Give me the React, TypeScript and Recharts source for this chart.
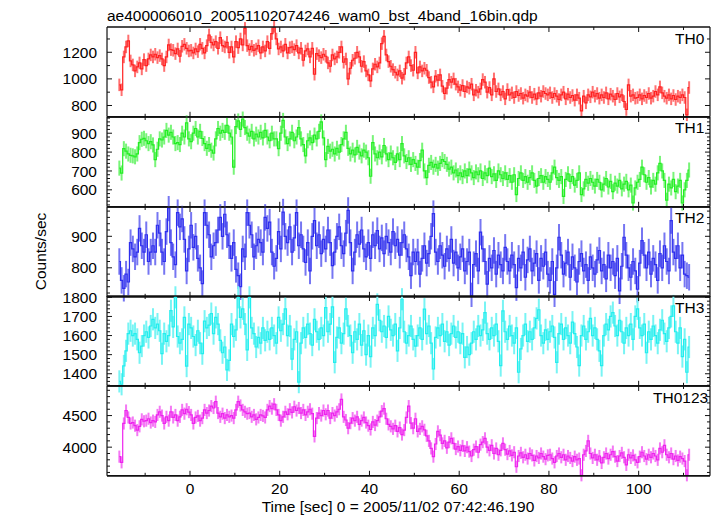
import React from "react";
import { LineChart, Line, XAxis, YAxis, ErrorBar } from "recharts";

// 0.5 s bins, centre of first bin
const TIME_START = -15.75;
const BIN_WIDTH = 0.5;

// TH0 counts/sec
const th0Rate = [
  955, 918, 1165, 1240, 1285, 1135, 1105, 1060, 1090, 1120, 1075, 1145,
  1100, 1150, 1180, 1165, 1185, 1160, 1175, 1150, 1100, 1165, 1255, 1220, 1215, 1190, 1225, 1170, 1245, 1260, 1230, 1210,
  1215, 1195, 1225, 1205, 1260, 1230, 1195, 1250, 1330, 1275, 1255, 1280, 1230, 1310, 1250, 1240, 1275, 1200, 1240, 1165,
  1280, 1235, 1300, 1255, 1380, 1250, 1220, 1245, 1215, 1225, 1250, 1195, 1240, 1210, 1280, 1230, 1340, 1395, 1300, 1225,
  1240, 1210, 1260, 1195, 1235, 1240, 1220, 1250, 1195, 1230, 1140, 1210, 1225, 1165, 1230, 1035, 1190, 1175, 1160, 1185,
  1170, 1120, 1095, 1180, 1150, 1165, 1200, 1240, 1125, 1150, 1000, 1080, 1140, 1155, 1200, 1165, 1095, 1130, 1060, 1030,
  985, 1075, 1110, 1090, 1120, 1265, 1320, 1180, 1130, 1095, 1070, 1050, 1030, 1060, 1005, 1035, 1120, 1165, 1100, 1065,
  1200, 1045, 1090, 1060, 1080, 1065, 1010, 975, 940, 1020, 990, 1030, 945, 890, 930, 995, 975, 1000, 960, 940,
  915, 950, 905, 940, 930, 960, 880, 915, 900, 925, 995, 975, 900, 935, 880, 1000, 905, 925, 880, 905,
  850, 920, 880, 895, 860, 905, 875, 890, 855, 880, 870, 900, 860, 885, 850, 895, 870, 905, 890, 880,
  895, 860, 890, 870, 845, 880, 900, 850, 885, 860, 875, 840, 880, 855, 760, 870, 820, 880, 865, 900,
  870, 890, 855, 880, 860, 895, 850, 885, 870, 845, 890, 865, 880, 830, 770, 955, 870, 880, 855, 860,
  880, 850, 875, 860, 890, 855, 870, 905, 880, 940, 895, 870, 855, 880, 850, 875, 845, 870, 860, 880,
  860, 730, 935,
];

// TH1 counts/sec
const th1Rate = [
  715, 689, 818, 805, 790, 783, 780, 775, 790, 850, 868, 873,
  860, 845, 855, 838, 760, 815, 870, 864, 880, 915, 890, 905, 880, 845, 850, 840, 900, 880, 955, 870,
  855, 900, 925, 880, 910, 872, 845, 820, 840, 810, 795, 870, 925, 900, 915, 905, 942, 900, 880, 720,
  935, 965, 920, 975, 930, 900, 885, 910, 870, 895, 880, 905, 875, 915, 880, 860, 900, 870, 870, 818,
  900, 968, 880, 845, 870, 905, 860, 880, 930, 870, 840, 780, 860, 875, 850, 890, 870, 910, 960, 875,
  760, 830, 805, 815, 790, 820, 800, 840, 870, 905, 820, 790, 810, 785, 825, 800, 780, 810, 800, 770,
  672, 850, 790, 770, 800, 775, 835, 790, 760, 795, 770, 745, 790, 760, 845, 780, 750, 770, 735, 760,
  740, 720, 755, 810, 700, 665, 730, 745, 720, 735, 715, 740, 760, 750, 735, 710, 720, 690, 705, 675,
  690, 670, 700, 675, 710, 690, 665, 695, 680, 700, 660, 690, 675, 715, 670, 685, 650, 700, 680, 660,
  690, 655, 675, 640, 680, 575, 660, 690, 650, 670, 640, 665, 690, 650, 620, 660, 675, 640, 670, 655,
  640, 690, 720, 665, 650, 670, 565, 655, 685, 645, 670, 625, 650, 690, 575, 605, 655, 635, 660, 640,
  620, 655, 640, 600, 630, 660, 615, 645, 590, 635, 620, 650, 605, 630, 645, 600, 625, 530, 610, 640,
  655, 720, 680, 640, 665, 615, 650, 630, 690, 740, 700, 650, 545, 630, 610, 655, 590, 620, 650, 530,
  600, 650, 705,
];

// TH2 counts/sec
const th2Rate = [
  820, 760, 735, 780, 755, 880, 860, 835, 850, 925, 870, 850,
  905, 820, 850, 870, 850, 935, 910, 850, 820, 915, 990, 880, 835, 810, 975, 930, 955, 890, 790, 860,
  935, 865, 900, 830, 800, 750, 975, 935, 905, 835, 870, 880, 920, 960, 900, 970, 905, 870, 830, 880,
  795, 775, 740, 860, 835, 975, 935, 905, 835, 870, 890, 880, 850, 960, 925, 945, 850, 805, 830, 915,
  860, 977, 900, 880, 930, 850, 895, 975, 870, 905, 860, 817, 880, 790, 900, 950, 870, 905, 845, 890,
  860, 920, 880, 807, 850, 900, 930, 870, 845, 910, 982, 880, 790, 850, 905, 875, 920, 860, 835, 880,
  830, 905, 870, 918, 860, 895, 845, 900, 880, 850, 915, 870, 890, 840, 880, 905, 860, 835, 775, 850,
  820, 850, 780, 830, 870, 815, 845, 900, 972, 850, 820, 870, 840, 805, 860, 830, 890, 815, 850, 800,
  835, 860, 790, 820, 850, 711, 810, 845, 790, 913, 860, 820, 748, 830, 800, 855, 780, 840, 810, 790,
  865, 820, 790, 840, 810, 737, 830, 800, 850, 770, 825, 860, 790, 815, 845, 760, 830, 805, 850, 780,
  760, 820, 716, 800, 897, 840, 780, 815, 850, 770, 835, 800, 755, 820, 845, 790, 810, 760, 835, 800,
  780, 825, 855, 790, 810, 765, 840, 800, 820, 775, 830, 727, 805, 897, 840, 800, 770, 820, 790, 732,
  815, 886, 840, 800, 850, 780, 830, 810, 760, 845, 800, 870, 820, 790, 950, 850, 830, 870, 800, 840,
  780, 775, 770,
];

// TH3 counts/sec
const th3Rate = [
  1360, 1345, 1441, 1520, 1610, 1625, 1600, 1610, 1580, 1510, 1545, 1600,
  1620, 1590, 1650, 1685, 1640, 1660, 1625, 1505, 1610, 1570, 1600, 1730, 1645, 1800, 1595, 1560, 1580, 1695, 1440, 1660,
  1640, 1595, 1550, 1625, 1560, 1505, 1675, 1640, 1655, 1715, 1610, 1695, 1660, 1575, 1510, 1540, 1420, 1470, 1660, 1595,
  1630, 1800, 1695, 1740, 1660, 1525, 1800, 1640, 1610, 1540, 1590, 1560, 1640, 1575, 1620, 1580, 1640, 1600, 1560, 1695,
  1625, 1660, 1740, 1600, 1650, 1477, 1580, 1620, 1356, 1560, 1640, 1590, 1660, 1610, 1550, 1685, 1620, 1580, 1640, 1600,
  1746, 1620, 1660, 1750, 1460, 1590, 1640, 1560, 1610, 1740, 1650, 1600, 1510, 1620, 1580, 1660, 1550, 1625, 1500, 1600,
  1490, 1640, 1600, 1763, 1680, 1620, 1650, 1590, 1700, 1630, 1600, 1660, 1520, 1640, 1790, 1620, 1560, 1600, 1650, 1580,
  1545, 1600, 1640, 1580, 1738, 1610, 1650, 1560, 1425, 1590, 1640, 1600, 1660, 1570, 1620, 1550, 1610, 1650, 1590, 1620,
  1560, 1610, 1486, 1540, 1500, 1560, 1620, 1580, 1650, 1600, 1630, 1720, 1610, 1580, 1640, 1600, 1660, 1570, 1443, 1729,
  1620, 1580, 1650, 1600, 1560, 1640, 1408, 1530, 1600, 1660, 1570, 1620, 1580, 1640, 1690, 1735, 1600, 1560, 1630, 1580,
  1620, 1650, 1590, 1460, 1610, 1660, 1580, 1640, 1600, 1560, 1670, 1610, 1540, 1443, 1600, 1650, 1580, 1620, 1690, 1600,
  1640, 1580, 1520, 1443, 1600, 1660, 1630, 1700, 1720, 1650, 1600, 1680, 1620, 1560, 1640, 1600, 1660, 1580, 1700, 1740,
  1640, 1600, 1660, 1510, 1620, 1580, 1650, 1600, 1560, 1630, 1680, 1610, 1570, 1640, 1700, 1755, 1620, 1560, 1640, 1490,
  1580, 1408, 1540,
];

// TH0123 counts/sec
const th0123Rate = [
  3850, 3760, 4375, 4580, 4470, 4375, 4390, 4340, 4270, 4330, 4440, 4410,
  4420, 4450, 4390, 4420, 4400, 4510, 4560, 4500, 4375, 4480, 4420, 4560, 4470, 4510, 4420, 4480, 4590, 4530, 4600, 4555,
  4510, 4375, 4470, 4495, 4420, 4460, 4590, 4540, 4580, 4650, 4620, 4720, 4540, 4480, 4530, 4460, 4510, 4480, 4500, 4460,
  4590, 4720, 4660, 4590, 4560, 4530, 4540, 4480, 4510, 4440, 4470, 4510, 4495, 4470, 4590, 4650, 4610, 4680, 4590, 4510,
  4420, 4480, 4560, 4520, 4600, 4550, 4640, 4580, 4620, 4540, 4590, 4510, 4560, 4600, 4530, 4170, 4460, 4540, 4500, 4580,
  4520, 4580, 4460, 4540, 4500, 4560, 4600, 4755, 4480, 4430, 4300, 4380, 4460, 4420, 4480, 4360, 4420, 4470, 4390, 4340,
  4280, 4400, 4350, 4420, 4480, 4570, 4610, 4450, 4360, 4330, 4290, 4340, 4250, 4310, 4200, 4270, 4470, 4650, 4380, 4300,
  4450, 4250, 4290, 4330, 4275, 4180, 4100, 3980, 3850, 4050, 4250, 4190, 4060, 4100, 3990, 4080, 4140, 4060, 3970, 4010,
  3950, 4020, 3940, 4000, 3930, 3860, 3960, 4010, 3920, 4040, 4080, 4140, 4000, 3950, 4030, 3900, 3980, 3880, 3950, 4060,
  3960, 3890, 3940, 3870, 3920, 3690, 3860, 3910, 3840, 3880, 3820, 3900, 3870, 3790, 3860, 3830, 3900, 3850, 3810, 3870,
  3880, 3820, 3760, 3860, 3900, 3840, 3880, 3800, 3860, 3830, 3780, 3850, 3800, 3820, 3555, 3880, 3940, 4100, 3900, 3830,
  3880, 3800, 3860, 3750, 3840, 3900, 3820, 3880, 3930, 3850, 3780, 3860, 3910, 3840, 3720, 3880, 3830, 3870, 3800, 3760,
  3850, 3920, 3860, 3810, 3880, 3840, 3900, 3860, 3800, 3980, 3920, 4030, 3880, 3840, 3900, 3810, 3860, 3790, 3850, 3820,
  3780, 3555, 3880,
];

// 1-sigma errors (counts/sec)
const th0Err = 47;
const th1Err = 40;
const th2Err = 42;
const th3Err = 58;
const th0123Err = 96;

const X_DOMAIN = [-18.5, 115.9];
const X_TICKS = [-10, 0, 10, 20, 30, 40, 50, 60, 70, 80, 90, 100, 110];
const X_LABELS = [0, 20, 40, 60, 80, 100];

const th0Ticks = [800, 900, 1000, 1100, 1200, 1300];
const th0Labels = [800, 1000, 1200];
const th1Ticks = [520, 540, 560, 580, 600, 620, 640, 660, 680, 700, 720, 740, 760, 780, 800, 820, 840, 860, 880, 900, 920, 940, 960, 980];
const th1Labels = [600, 700, 800, 900];
const th2Ticks = [720, 740, 760, 780, 800, 820, 840, 860, 880, 900, 920, 940, 960, 980];
const th2Labels = [800, 900];
const th3Ticks = [1340, 1360, 1380, 1400, 1420, 1440, 1460, 1480, 1500, 1520, 1540, 1560, 1580, 1600, 1620, 1640, 1660, 1680, 1700, 1720, 1740, 1760, 1780, 1800];
const th3Labels = [1400, 1500, 1600, 1700, 1800];
const th0123Ticks = [3600, 3700, 3800, 3900, 4000, 4100, 4200, 4300, 4400, 4500, 4600, 4700, 4800, 4900];
const th0123Labels = [4000, 4500];

const TITLE = "ae400006010_20051102074246_wam0_bst_4band_16bin.qdp";
const X_TITLE = "Time [sec] 0 = 2005/11/02 07:42:46.190";
const Y_TITLE = "Counts/sec";

const FONT = "'Liberation Sans', Arial, Helvetica, sans-serif";
const FS = 15.5;

type PanelDef = {
  name: string;
  rate: number[];
  err: number;
  domain: number[];
  ticks: number[];
  labels: number[];
  line: string;
  errColor: string;
  labelX: number;
};

const PANELS: PanelDef[] = [
  { name: "TH0", rate: th0Rate, err: th0Err, domain: [715, 1390], ticks: th0Ticks, labels: th0Labels, line: "#ff2020", errColor: "#ff7070", labelX: 675 },
  { name: "TH1", rate: th1Rate, err: th1Err, domain: [510, 986], ticks: th1Ticks, labels: th1Labels, line: "#22ee22", errColor: "#78f478", labelX: 675 },
  { name: "TH2", rate: th2Rate, err: th2Err, domain: [708, 993], ticks: th2Ticks, labels: th2Labels, line: "#2e2eee", errColor: "#7676f2", labelX: 675 },
  { name: "TH3", rate: th3Rate, err: th3Err, domain: [1337, 1807], ticks: th3Ticks, labels: th3Labels, line: "#22eeee", errColor: "#78f4f4", labelX: 675 },
  { name: "TH0123", rate: th0123Rate, err: th0123Err, domain: [3547, 4968], ticks: th0123Ticks, labels: th0123Labels, line: "#ee22ee", errColor: "#f478f4", labelX: 653 },
];

const PANEL_TOP = 27;
const PANEL_H = 89.8;
const CHART_W = 717;
const LEFT_W = 107;
const RIGHT_W = 7;
const BOTTOM_AXIS_H = 40;
const PAD = 10;

const makeXTick = (side: "bottom" | "top", showLabel: boolean) => (props: any) => {
  const { x, y, payload } = props;
  const v = payload.value;
  const major = X_LABELS.includes(v);
  const len = major ? 5 : 3;
  const dir = side === "bottom" ? -1 : 1;
  return (
    <g key={`x-${side}-${v}`}>
      <line x1={x} x2={x} y1={y} y2={y + dir * len} stroke="#111" strokeWidth={1} />
      {showLabel && major ? (
        <text x={x} y={y + 18} textAnchor="middle" fontFamily={FONT} fontSize={FS} fill="#000">
          {v}
        </text>
      ) : null}
    </g>
  );
};

const makeYTick = (side: "left" | "right", labels: number[]) => (props: any) => {
  const { x, y, payload } = props;
  const v = payload.value;
  const major = labels.includes(v);
  const len = major ? 5 : 3;
  const dir = side === "left" ? 1 : -1;
  return (
    <g key={`y-${side}-${v}`}>
      <line x1={x} x2={x + dir * len} y1={y} y2={y} stroke="#111" strokeWidth={1} />
      {side === "left" && major ? (
        <text x={x - 10} y={y} dy="0.36em" textAnchor="end" fontFamily={FONT} fontSize={FS} fill="#000">
          {v}
        </text>
      ) : null}
    </g>
  );
};

function Panel({ p, index, last }: { p: PanelDef; index: number; last: boolean }) {
  const data = p.rate.map((v, i) => ({ t: TIME_START + i * BIN_WIDTH, v, e: p.err }));
  const bottomH = last ? BOTTOM_AXIS_H : 1;
  const padBottom = last ? 0 : PAD;
  const top = PANEL_TOP + index * PANEL_H - PAD - 1;
  const height = PAD + 1 + PANEL_H + bottomH + padBottom;
  return (
    <div style={{ position: "absolute", left: 0, top }}>
      <LineChart
        width={CHART_W}
        height={height}
        data={data}
        margin={{ top: PAD, right: 0, bottom: padBottom, left: 0 }}
      >
        <XAxis
          xAxisId="b"
          dataKey="t"
          type="number"
          domain={X_DOMAIN}
          allowDataOverflow
          ticks={X_TICKS}
          interval={0}
          height={bottomH}
          tickSize={0}
          tickMargin={0}
          tickLine={false}
          axisLine={{ stroke: "#111", strokeWidth: 1.7 }}
          tick={makeXTick("bottom", last)}
        />
        <XAxis
          xAxisId="t"
          orientation="top"
          dataKey="t"
          type="number"
          domain={X_DOMAIN}
          allowDataOverflow
          ticks={X_TICKS}
          interval={0}
          height={1}
          tickSize={0}
          tickMargin={0}
          tickLine={false}
          axisLine={{ stroke: "#111", strokeWidth: 1.7 }}
          tick={makeXTick("top", false)}
        />
        <YAxis
          yAxisId="l"
          type="number"
          domain={p.domain}
          allowDataOverflow
          ticks={p.ticks}
          interval={0}
          width={LEFT_W}
          tickSize={0}
          tickMargin={0}
          tickLine={false}
          axisLine={{ stroke: "#111", strokeWidth: 1.2 }}
          tick={makeYTick("left", p.labels)}
        />
        <YAxis
          yAxisId="r"
          orientation="right"
          type="number"
          domain={p.domain}
          allowDataOverflow
          ticks={p.ticks}
          interval={0}
          width={RIGHT_W}
          tickSize={0}
          tickMargin={0}
          tickLine={false}
          axisLine={{ stroke: "#111", strokeWidth: 1.2 }}
          tick={makeYTick("right", p.labels)}
        />
        <Line
          xAxisId="b"
          yAxisId="l"
          dataKey="v"
          stroke="none"
          dot={false}
          activeDot={false}
          isAnimationActive={false}
        >
          <ErrorBar dataKey="e" width={0} stroke={p.errColor} strokeWidth={2} direction="y" isAnimationActive={false} />
        </Line>
        <Line
          xAxisId="b"
          yAxisId="l"
          type="step"
          dataKey="v"
          stroke={p.line}
          strokeWidth={1.2}
          dot={false}
          activeDot={false}
          isAnimationActive={false}
        />
      </LineChart>
    </div>
  );
}

export default function App() {
  const bottom = PANEL_TOP + PANELS.length * PANEL_H;
  return (
    <div style={{ position: "absolute", left: 0, top: 0, width: 717, height: 516, background: "#fff", overflow: "hidden" }}>
      {PANELS.map((p, i) => (
        <Panel key={p.name} p={p} index={i} last={i === PANELS.length - 1} />
      ))}
      <svg width={717} height={516} style={{ position: "absolute", left: 0, top: 0, pointerEvents: "none" }}>
        <text x={107} y={20.5} fontFamily={FONT} fontSize={FS} fill="#000">
          {TITLE}
        </text>
        {PANELS.map((p, i) => (
          <text key={p.name} x={p.labelX} y={PANEL_TOP + i * PANEL_H + 16.5} fontFamily={FONT} fontSize={FS} fill="#000">
            {p.name}
          </text>
        ))}
        <text
          x={0}
          y={0}
          transform={`translate(46, ${(PANEL_TOP + bottom) / 2}) rotate(-90)`}
          textAnchor="middle"
          fontFamily={FONT}
          fontSize={FS}
          fill="#000"
        >
          {Y_TITLE}
        </text>
        <text x={398} y={511.5} textAnchor="middle" fontFamily={FONT} fontSize={FS} fill="#000">
          {X_TITLE}
        </text>
      </svg>
    </div>
  );
}
